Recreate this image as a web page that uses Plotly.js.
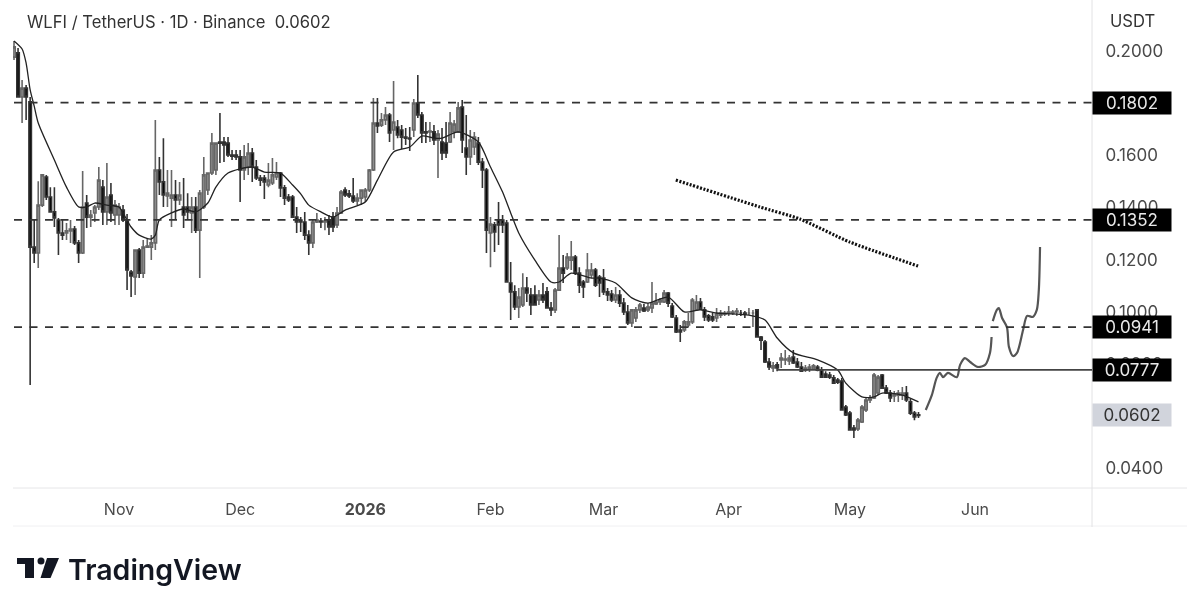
<!DOCTYPE html>
<html><head><meta charset="utf-8">
<script src="https://cdn.plot.ly/plotly-3.0.1.min.js"></script>
<style>html,body{margin:0;padding:0;background:#fff}#chart{width:1200px;height:611px;filter:blur(0.4px)}</style>
</head><body><div id="chart"></div>
<script>
const firstDay = Date.UTC(2025, 9, 6);
const opens = [.1977,.1993,.1824,.1858,.1805,.1248,.1225,.1409,.1517,.1440,
.1383,.1352,.1302,.1302,.1310,.1317,.1264,.1225,.1417,.1363,
.1379,.1402,.1478,.1383,.1448,.1371,.1371,.1390,.1348,.1152,
.1133,.1237,.1148,.1248,.1248,.1264,.1544,.1498,.1444,.1436,
.1448,.1429,.1402,.1402,.1379,.1402,.1313,.1402,.1467,.1532,
.1544,.1651,.1651,.1647,.1601,.1601,.1594,.1544,.1555,.1609,
.1555,.1513,.1513,.1486,.1494,.1517,.1532,.1475,.1440,.1440,
.1363,.1352,.1344,.1294,.1264,.1344,.1348,.1344,.1352,.1363,
.1333,.1379,.1467,.1452,.1444,.1425,.1436,.1440,.1467,.1544,
.1724,.1716,.1736,.1755,.1697,.1709,.1697,.1670,.1666,.1697,
.1801,.1755,.1690,.1690,.1690,.1659,.1651,.1647,.1651,.1690,
.1690,.1785,.1628,.1594,.1632,.1647,.1574,.1544,.1302,.1333,
.1352,.1352,.1340,.1110,.1076,.1018,.1026,.1091,.1064,.1064,
.1045,.1064,.1076,.1014,.1007,.1083,.1168,.1168,.1198,.1210,
.1148,.1114,.1114,.1141,.1160,.1133,.1129,.1076,.1068,.1045,
.1064,.1033,.0999,.0957,.0976,.1007,.1014,.1007,.1014,.1030,
.1037,.1037,.1072,.1022,.0976,.0930,.0930,.0949,.0961,.1007,
.1037,.1007,.0984,.0980,.0976,.0987,.0991,.0995,.0995,.0999,
.0995,.0995,.0995,.0995,.1007,.0903,.0884,.0807,.0784,.0796,
.0815,.0815,.0811,.0826,.0807,.0788,.0776,.0780,.0780,.0788,
.0776,.0761,.0757,.0746,.0738,.0734,.0634,.0611,.0554,.0550,
.0577,.0623,.0661,.0669,.0688,.0757,.0707,.0688,.0677,.0680,
.0680,.0688,.0654,.0611,.0604];
const highs = [.2039,.2012,.1889,.1870,.1824,.1352,.1501,.1528,.1525,.1478,
.1478,.1360,.1352,.1340,.1352,.1329,.1275,.1540,.1448,.1390,
.1409,.1555,.1505,.1571,.1494,.1429,.1417,.1409,.1375,.1160,
.1237,.1244,.1275,.1283,.1294,.1736,.1594,.1666,.1544,.1544,
.1505,.1498,.1513,.1455,.1440,.1440,.1467,.1594,.1532,.1686,
.1647,.1762,.1670,.1670,.1620,.1620,.1620,.1640,.1647,.1628,
.1582,.1525,.1525,.1571,.1590,.1574,.1536,.1486,.1452,.1448,
.1402,.1363,.1383,.1313,.1352,.1379,.1360,.1363,.1371,.1383,
.1402,.1467,.1478,.1467,.1513,.1455,.1467,.1475,.1548,.1820,
.1820,.1762,.1785,.1762,.1885,.1736,.1716,.1705,.1709,.1816,
.1908,.1766,.1728,.1728,.1716,.1697,.1705,.1728,.1766,.1736,
.1805,.1812,.1755,.1697,.1690,.1670,.1590,.1551,.1363,.1344,
.1421,.1371,.1352,.1191,.1102,.1091,.1148,.1133,.1091,.1102,
.1083,.1110,.1095,.1037,.1091,.1294,.1218,.1225,.1271,.1218,
.1171,.1122,.1225,.1187,.1168,.1141,.1164,.1091,.1083,.1095,
.1083,.1053,.1026,.1007,.1018,.1033,.1030,.1033,.1114,.1072,
.1053,.1083,.1076,.1033,.0987,.0949,.0968,.0995,.1053,.1064,
.1053,.1018,.0991,.0995,.1014,.1007,.1003,.1022,.1007,.1014,
.1007,.1003,.1014,.1007,.1010,.0907,.0891,.0822,.0807,.0807,
.0842,.0853,.0834,.0853,.0822,.0807,.0796,.0799,.0799,.0796,
.0788,.0772,.0769,.0757,.0746,.0746,.0642,.0619,.0565,.0592,
.0642,.0669,.0680,.0765,.0757,.0761,.0719,.0700,.0696,.0700,
.0711,.0715,.0665,.0619,.0615];
const lows = [.1966,.1824,.1724,.1736,.0719,.1187,.1168,.1402,.1429,.1383,
.1325,.1218,.1275,.1275,.1264,.1256,.1187,.1221,.1321,.1325,
.1344,.1390,.1333,.1333,.1344,.1333,.1333,.1344,.1083,.1056,
.1064,.1129,.1129,.1244,.1198,.1237,.1448,.1402,.1402,.1325,
.1352,.1409,.1321,.1352,.1302,.1302,.1129,.1394,.1448,.1525,
.1525,.1571,.1574,.1594,.1582,.1582,.1421,.1505,.1525,.1498,
.1505,.1482,.1432,.1478,.1486,.1505,.1440,.1409,.1421,.1363,
.1302,.1306,.1275,.1218,.1244,.1340,.1321,.1313,.1294,.1306,
.1321,.1375,.1440,.1436,.1417,.1409,.1409,.1421,.1459,.1540,
.1686,.1709,.1716,.1651,.1620,.1666,.1624,.1640,.1617,.1670,
.1743,.1647,.1647,.1651,.1640,.1513,.1582,.1590,.1647,.1666,
.1686,.1609,.1525,.1563,.1601,.1563,.1475,.1225,.1171,.1229,
.1256,.1302,.1114,.0968,.1007,.0976,.1018,.1037,.0987,.1026,
.1026,.1033,.1014,.0984,.0995,.1079,.1110,.1160,.1160,.1141,
.1072,.1053,.1110,.1129,.1095,.1056,.1064,.1041,.1037,.1033,
.1018,.0987,.0949,.0941,.0961,.0995,.0999,.0999,.0995,.1026,
.1026,.1033,.1018,.0976,.0918,.0884,.0922,.0941,.0953,.1003,
.1007,.0964,.0961,.0961,.0961,.0976,.0984,.0984,.0987,.0984,
.0984,.0976,.0987,.0941,.0903,.0853,.0803,.0776,.0769,.0772,
.0784,.0796,.0796,.0799,.0784,.0769,.0769,.0769,.0776,.0772,
.0746,.0746,.0742,.0723,.0723,.0623,.0600,.0546,.0515,.0542,
.0573,.0615,.0650,.0665,.0680,.0703,.0684,.0654,.0654,.0654,
.0661,.0654,.0604,.0584,.0592];
const closes = [.2016,.1824,.1858,.1824,.1248,.1225,.1409,.1525,.1440,.1383,
.1360,.1302,.1294,.1310,.1317,.1264,.1225,.1402,.1363,.1371,
.1402,.1505,.1383,.1440,.1379,.1409,.1402,.1352,.1160,.1137,
.1237,.1148,.1248,.1252,.1264,.1544,.1498,.1448,.1455,.1448,
.1429,.1448,.1371,.1383,.1402,.1313,.1455,.1525,.1532,.1647,
.1647,.1647,.1640,.1601,.1597,.1594,.1544,.1594,.1609,.1555,
.1513,.1505,.1498,.1505,.1525,.1532,.1475,.1436,.1429,.1363,
.1344,.1344,.1294,.1264,.1344,.1352,.1344,.1348,.1325,.1325,
.1379,.1459,.1448,.1444,.1425,.1436,.1467,.1467,.1544,.1724,
.1713,.1736,.1755,.1686,.1728,.1678,.1670,.1666,.1663,.1801,
.1755,.1686,.1686,.1693,.1659,.1682,.1609,.1609,.1724,.1720,
.1782,.1659,.1594,.1659,.1670,.1574,.1544,.1313,.1336,.1306,
.1333,.1333,.1114,.1076,.1018,.1056,.1091,.1072,.1026,.1026,
.1064,.1045,.1014,.1007,.1083,.1168,.1148,.1210,.1210,.1148,
.1102,.1095,.1160,.1160,.1102,.1110,.1076,.1064,.1045,.1064,
.1033,.0999,.0957,.1007,.1007,.1026,.1003,.1018,.1033,.1037,
.1045,.1072,.1033,.0980,.0922,.0922,.0961,.0961,.1045,.1037,
.1010,.0980,.0968,.0968,.0991,.0995,.0995,.0999,.0999,.1003,
.0995,.0991,.0995,.0995,.0903,.0891,.0807,.0788,.0792,.0784,
.0822,.0818,.0822,.0803,.0788,.0772,.0784,.0788,.0792,.0776,
.0749,.0749,.0749,.0726,.0730,.0623,.0604,.0546,.0546,.0584,
.0634,.0661,.0669,.0757,.0749,.0707,.0688,.0669,.0684,.0688,
.0688,.0661,.0611,.0596,.0602];

const maDays = [0,2,3,4,5,6,10,13,16,18,20,23,26,27,29,31,34,35,36,39,42,45,48,50,53,56,59,62,66,69,71,73,76,79,82,87,90,94,98,101,104,106,110,115,118,121,123,125,129,133,135,138,143,145,149,153,157,162,166,170,174,182,186,189,193,199,204,206,210,213,215,220,224];
const maValues = [.2039,.2008,.1954,.1851,.1789,.1724,.1582,.1478,.1402,.1402,.1417,.1409,.1402,.1379,.1325,.1294,.1279,.1294,.1352,.1379,.1394,.1383,.1417,.1478,.1532,.1548,.1555,.1536,.1532,.1486,.1452,.1409,.1383,.1363,.1390,.1421,.1505,.1613,.1632,.1674,.1666,.1666,.1690,.1651,.1555,.1459,.1379,.1302,.1198,.1114,.1114,.1148,.1129,.1129,.1110,.1053,.1033,.1056,.0999,.1007,.0995,.0987,.0968,.0899,.0842,.0815,.0776,.0726,.0673,.0673,.0688,.0680,.0654];

const dottedDays = [163.9,184.7,194.6,207,223.9];
const dottedValues = [.1505,.1402,.1356,.1267,.1175];

const sketchADays = [225.8,227.3,228.5,229.3,230.1,231.3,233.5,234.3,235.5,236.8,238.7,240.5,241.7,242.1];
const sketchAValues = [.0623,.0680,.0746,.0765,.0749,.0765,.0749,.0796,.0822,.0807,.0788,.0796,.0842,.0903];
const sketchBDays = [242.4,243.4,243.9,244.7,245.9,246.4,247.4,248.4,249.9,250.9,252.3,253.3,253.8,254.1];
const sketchBValues = [.0964,.1007,.1014,.0976,.0941,.0865,.0830,.0842,.0930,.0984,.0980,.1007,.1083,.1248];

const dashedLevels = [0.1802, 0.1352, 0.0941];
const solidLevel = 0.0777;
const solidStartDay = 188.9;
const lastPrice = 0.0602;
const priceTicks = [0.2,0.18,0.16,0.14,0.12,0.10,0.08,0.06,0.04];
const priceTickLabels = ['0.2000','0.1800','0.1600','0.1400','0.1200','0.1000','0.0800','0.0600','0.0400'];
const monthTicks = [[2025,10],[2025,11],[2026,0],[2026,1],[2026,2],[2026,3],[2026,4],[2026,5]];
const monthLabels = ['Nov','Dec','<b>2026</b>','Feb','Mar','Apr','May','Jun'];

const toTime = d => firstDay + d * 864e5;
const PL = 13, PR = 1092, PB = 488;
const px = x => (x - PL) / (PR - PL);
const py = y => (PB - y) / PB;
const font = 'Inter, "Open Sans", sans-serif';
const GREY = '#4a4a4a';

const traces = [
 {type:'candlestick', x:opens.map((_,i)=>toTime(i)), open:opens, high:highs, low:lows, close:closes,
  increasing:{line:{color:'#666',width:1.6}, fillcolor:'#999'},
  decreasing:{line:{color:'#333',width:1.6}, fillcolor:'#000'},
  whiskerwidth:0, hoverinfo:'skip'},
 {type:'scatter', mode:'lines', x:maDays.map(toTime), y:maValues, line:{color:'#222',width:1.3,shape:'spline',smoothing:0.7}, hoverinfo:'skip'},
 {type:'scatter', mode:'lines', x:dottedDays.map(toTime), y:dottedValues, line:{color:'#111',width:3.2,dash:'2px,1.6px',shape:'spline',smoothing:0.5}, hoverinfo:'skip'},
 {type:'scatter', mode:'lines', x:sketchADays.map(toTime), y:sketchAValues, line:{color:'#555',width:2.2,shape:'spline',smoothing:0.8}, hoverinfo:'skip'},
 {type:'scatter', mode:'lines', x:sketchBDays.map(toTime), y:sketchBValues, line:{color:'#555',width:2.2,shape:'spline',smoothing:0.8}, hoverinfo:'skip'}
];

const frame = (x0,y0,x1,y1,color) => ({type:'line',xref:'paper',yref:'paper',x0:px(x0),y0:py(y0),x1:px(x1),y1:py(y1),line:{color,width:1},layer:'below'});
const poly = pts => 'M' + pts.map(p => px(p[0]) + ',' + py(p[1])).join('L') + 'Z';
const shapes = [
 frame(13,488,1187,488,'#e6e6e8'),
 frame(13,526,1187,526,'#f0f0f2'),
 frame(1092,0,1092,527,'#e2e2e4'),
 ...dashedLevels.map(v => ({type:'line',xref:'x',yref:'y',x0:toTime(0),x1:toTime(267),y0:v,y1:v,line:{color:'#333',width:1.8,dash:'8px,7.5px'}})),
 {type:'line',xref:'x',yref:'y',x0:toTime(solidStartDay),x1:toTime(267),y0:solidLevel,y1:solidLevel,line:{color:'#444',width:1.8}},
 {type:'path',xref:'paper',yref:'paper',path:poly([[17,558],[34,558],[34,578],[25,578],[25,564],[17,564]]),fillcolor:'#131722',line:{width:0}},
 {type:'path',xref:'paper',yref:'paper',path:poly([[47,558],[59,558],[50.5,578],[40.5,578]]),fillcolor:'#131722',line:{width:0}},
 {type:'circle',xref:'paper',yref:'paper',x0:px(37.5),x1:px(44.5),y0:py(564.5),y1:py(557.5),fillcolor:'#131722',line:{width:0}}
];

const tag = (v,bg,col) => ({xref:'paper',yref:'y',x:px(1131.5),y:v,text:v.toFixed(4),showarrow:false,bgcolor:bg,width:76,height:20,
  font:{family:font,size:17,color:col},xanchor:'center',yanchor:'middle',borderpad:1});
const annotations = [
 {xref:'paper',yref:'paper',x:px(25),y:py(22),xanchor:'left',yanchor:'middle',showarrow:false,
  text:'WLFI / TetherUS · 1D · Binance  0.0602',font:{family:font,size:16.6,color:'#333'}},
 {xref:'paper',yref:'paper',x:px(1132),y:py(21),xanchor:'center',yanchor:'middle',showarrow:false,
  text:'USDT',font:{family:font,size:16.6,color:'#333'}},
 ...[0.1802,0.1352,0.0941,0.0777].map(v => tag(v,'#000','#e8e8e8')),
 tag(lastPrice,'#d1d4dc','#333'),
 {xref:'paper',yref:'paper',x:px(66),y:py(569),xanchor:'left',yanchor:'middle',showarrow:false,
  text:'TradingView',font:{family:font,size:28.5,color:'#131722',weight:600}}
];

const layout = {
 width:1200,height:611,paper_bgcolor:'#fff',plot_bgcolor:'#fff',showlegend:false,boxgap:0.12,
 margin:{l:PL,r:1200-PR,t:0,b:611-PB,pad:0},
 xaxis:{type:'date',range:[toTime(-0.25),toTime(266.97)],rangeslider:{visible:false},showgrid:false,zeroline:false,showline:false,
  tickmode:'array',tickvals:monthTicks.map(m=>Date.UTC(m[0],m[1],1)),ticktext:monthLabels,
  tickfont:{family:font,size:16,color:GREY},ticks:'outside',ticklen:7,tickcolor:'rgba(0,0,0,0)',automargin:false},
 yaxis:{side:'right',range:[0.03236,0.2196],showgrid:false,zeroline:false,showline:false,
  tickmode:'array',tickvals:priceTicks,ticktext:priceTickLabels,
  tickfont:{family:font,size:17,color:GREY},ticks:'outside',ticklen:9,tickcolor:'rgba(0,0,0,0)',automargin:false},
 shapes,annotations
};
Plotly.newPlot('chart',traces,layout,{displayModeBar:false,staticPlot:true});
</script></body></html>
